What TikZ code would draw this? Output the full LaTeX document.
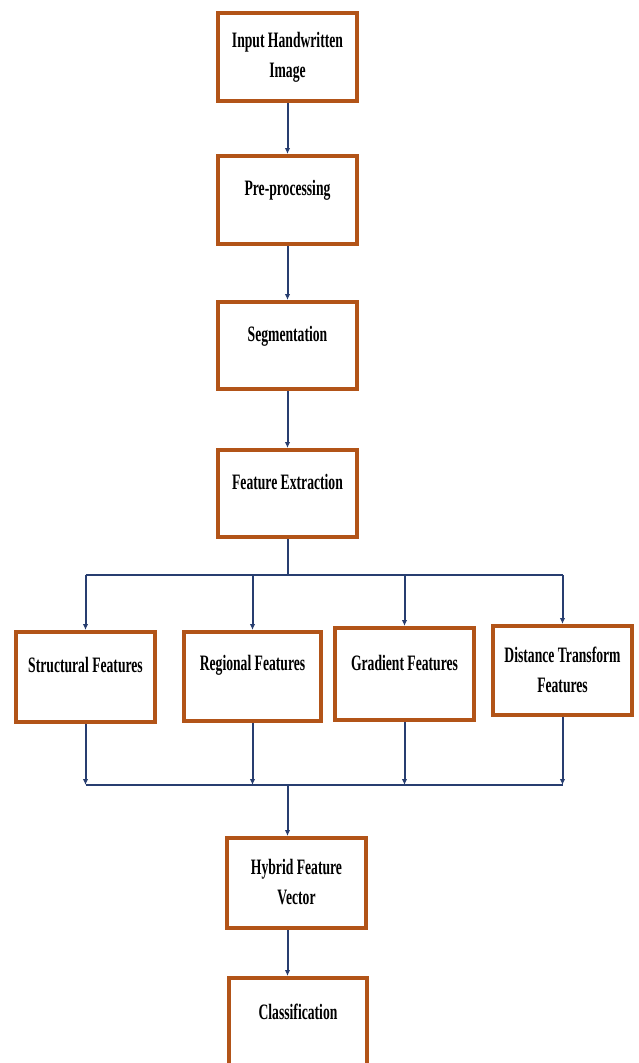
\documentclass[tikz,border=0pt]{standalone}
\usepackage{fontspec}
\setmainfont[FakeStretch=0.62]{Liberation Serif}
\usetikzlibrary{arrows.meta}
\definecolor{boxc}{RGB}{178,84,24}
\definecolor{linec}{RGB}{40,62,112}
\begin{document}
\begin{tikzpicture}[x=1pt,y=-1pt,
 box/.style={draw=boxc, line width=4pt, fill=white, inner sep=0pt, minimum width=139pt},
 lbl/.style={font=\fontsize{22}{30}\selectfont\bfseries, align=center, inner sep=0pt},
 conn/.style={draw=linec, line width=2pt},
 arr/.style={conn, -{Latex[length=6pt,width=5.5pt]}}]
\useasboundingbox (0,0) rectangle (639,1063);
% boxes
\node[box, minimum height=88pt] (in)  at (287.5,57) {};
\node[box, minimum height=88pt] (pre) at (287.5,200) {};
\node[box, minimum height=87pt] (seg) at (287.5,345.5) {};
\node[box, minimum height=87pt] (fe)  at (287.5,493.5) {};
\node[box, minimum height=90pt] (st)  at (85.5,677) {};
\node[box, minimum height=89pt, minimum width=137pt] (rg) at (252.5,676.5) {};
\node[box, minimum height=92pt] (gr)  at (404.5,674) {};
\node[box, minimum height=89pt] (dt)  at (562.5,670.5) {};
\node[box, minimum height=90pt] (hy)  at (296.5,883) {};
\node[box, minimum height=102pt, minimum width=138pt] (cl) at (298,1029) {};
% labels
\node[lbl] (tin)  at (287.5,57) {Input Handwritten\\Image};
\node[lbl] (tpre) at (287.5,190) {Pre-processing};
\node[lbl] (tseg) at (287.5,336) {Segmentation};
\node[lbl] (tfe)  at (287.5,482) {Feature Extraction};
\node[lbl] (tst)  at (85.5,665) {Structural Features};
\node[lbl] (trg)  at (252.5,665) {Regional Features};
\node[lbl] (tgr)  at (404.5,663) {Gradient Features};
\node[lbl] (tdt)  at (562.5,670) {Distance Transform\\Features};
\node[lbl] (thy)  at (296.5,882.5) {Hybrid Feature\\Vector};
\node[lbl] (tcl)  at (298,1012) {Classification};
% connectors
\coordinate (bt) at (287.5,575);
\coordinate (bb) at (287.5,785);
\draw[arr] (in) -- (pre);
\draw[arr] (pre) -- (seg);
\draw[arr] (seg) -- (fe);
\draw[conn] (fe.south) -- (bt);
\draw[conn] (st.north |- bt) -- (dt.north |- bt);
\foreach \n in {st,rg,gr,dt}{
  \draw[arr] (\n.north |- bt) -- (\n.north);
  \draw[arr] (\n.south) -- (\n.south |- bb);
}
\draw[conn] (st.south |- bb) -- (dt.south |- bb);
\draw[arr] (bb) -- (bb |- hy.north);
\draw[arr] (bb |- hy.south) -- (bb |- cl.north);
\end{tikzpicture}
\end{document}
